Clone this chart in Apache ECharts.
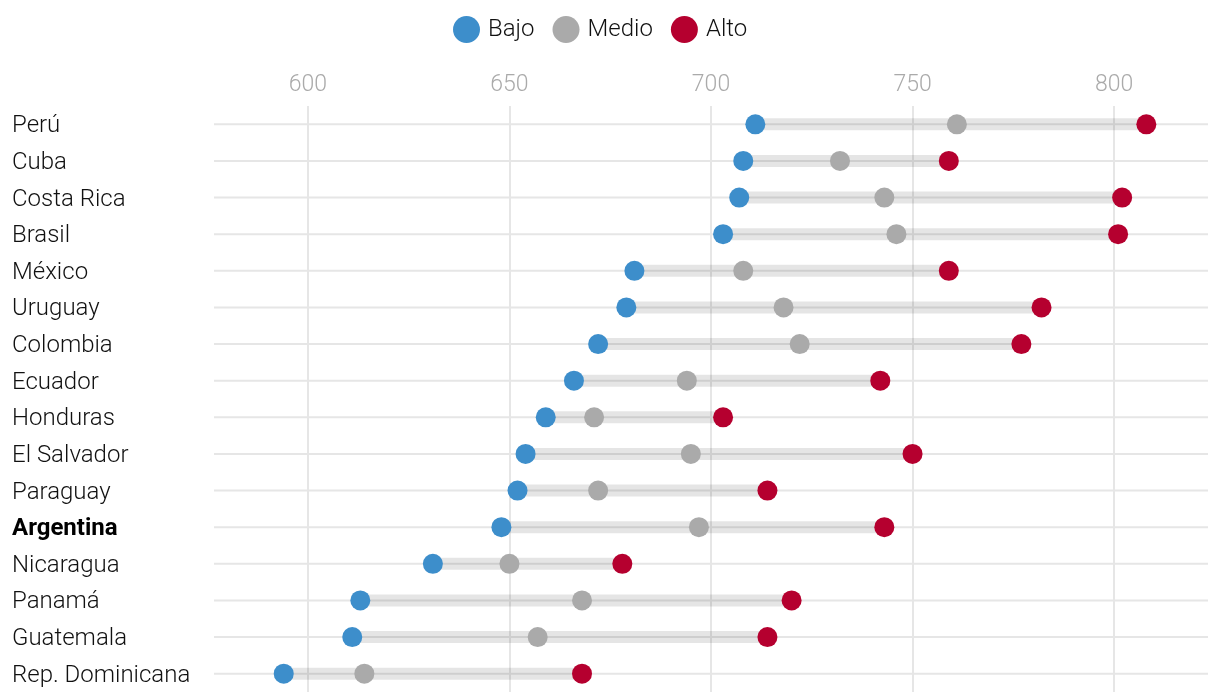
<!DOCTYPE html>
<html>
<head>
<meta charset="utf-8">
<script src="https://cdn.jsdelivr.net/npm/echarts@6/dist/echarts.min.js"></script>
<style>html,body{margin:0;padding:0;background:#fff}#c{width:1220px;height:700px}</style>
</head>
<body>
<div id="c"></div>
<script>
const countries = ["Perú","Cuba","Costa Rica","Brasil","México","Uruguay","Colombia","Ecuador","Honduras","El Salvador","Paraguay","Argentina","Nicaragua","Panamá","Guatemala","Rep. Dominicana"];
const bajo  = [711,708,707,703,681,679,672,666,659,654,652,648,631,613,611,594];
const medio = [761,732,743,746,708,718,722,694,671,695,672,697,650,668,657,614];
const alto  = [808,759,802,801,759,782,777,742,703,750,714,743,678,720,714,668];
const xTicks = [600,650,700,750,800];
const highlight = "Argentina";

const FONT = "Roboto";
const chart = echarts.init(document.getElementById('c'), null, {renderer:'canvas'});
const rangeData = countries.map((c,i)=>[i, bajo[i], alto[i]]);

chart.setOption({
  animation:false,
  textStyle:{fontFamily:FONT},
  legend:{
    data:["Bajo","Medio","Alto"],
    top:11, left:448,
    icon:'circle', itemWidth:27, itemHeight:27, itemGap:18,
    textStyle:{fontSize:24, color:'#111', fontFamily:FONT, fontWeight:300, padding:[0,0,0,3]}
  },
  grid:{left:214, right:12, top:106, bottom:8, containLabel:false},
  xAxis:{type:'value', min:576.7, max:823.3, show:false, splitLine:{show:false}},
  yAxis:{
    type:'category', data:countries, inverse:true,
    axisLine:{show:false}, axisTick:{show:false}, splitLine:{show:false},
    axisLabel:{
      align:'left', margin:202, fontSize:24, color:'#111', fontFamily:FONT, fontWeight:300,
      padding:[4,0,0,0],
      formatter:(v)=> v===highlight ? '{b|'+v+'}' : v,
      rich:{b:{fontWeight:'bold', fontSize:24, color:'#000', fontFamily:FONT}}
    }
  },
  series:[
    {
      type:'scatter', name:'_grid', data:[], z:0, silent:true,
      markLine:{
        silent:true, symbol:'none', animation:false, z:0,
        lineStyle:{color:'#e6e6e6', width:2, type:'solid'},
        label:{show:true, position:'start', distance:9, color:'#aaa', fontSize:23, fontFamily:FONT, fontWeight:300, formatter:(p)=>String(p.value)},
        emphasis:{disabled:true},
        data: xTicks.map(v=>({xAxis:v}))
      }
    },
    {
      type:'custom', name:'_range', z:2, silent:true,
      data:rangeData,
      encode:{x:[1,2], y:0},
      renderItem:(params, api)=>{
        const i = api.value(0);
        const a = api.coord([api.value(1), i]);
        const b = api.coord([api.value(2), i]);
        const cs = params.coordSys;
        return {type:'group', children:[
          {type:'line', shape:{x1:cs.x, y1:a[1], x2:cs.x+cs.width, y2:a[1]}, style:{stroke:'#e6e6e6', lineWidth:2}},
          {type:'line', shape:{x1:a[0], y1:a[1], x2:b[0], y2:b[1]}, style:{stroke:'rgba(0,0,0,0.1)', lineWidth:12}}
        ]};
      }
    },
    {type:'scatter', name:'Medio', z:3, symbolSize:20, itemStyle:{color:'#aaaaaa', opacity:1}, data:medio.map((v,i)=>[v,i])},
    {type:'scatter', name:'Bajo', z:4, symbolSize:20, itemStyle:{color:'#3d8ecb', opacity:1}, data:bajo.map((v,i)=>[v,i])},
    {type:'scatter', name:'Alto', z:4, symbolSize:20, itemStyle:{color:'#b5002f', opacity:1}, data:alto.map((v,i)=>[v,i])}
  ]
});
</script>
</body>
</html>
